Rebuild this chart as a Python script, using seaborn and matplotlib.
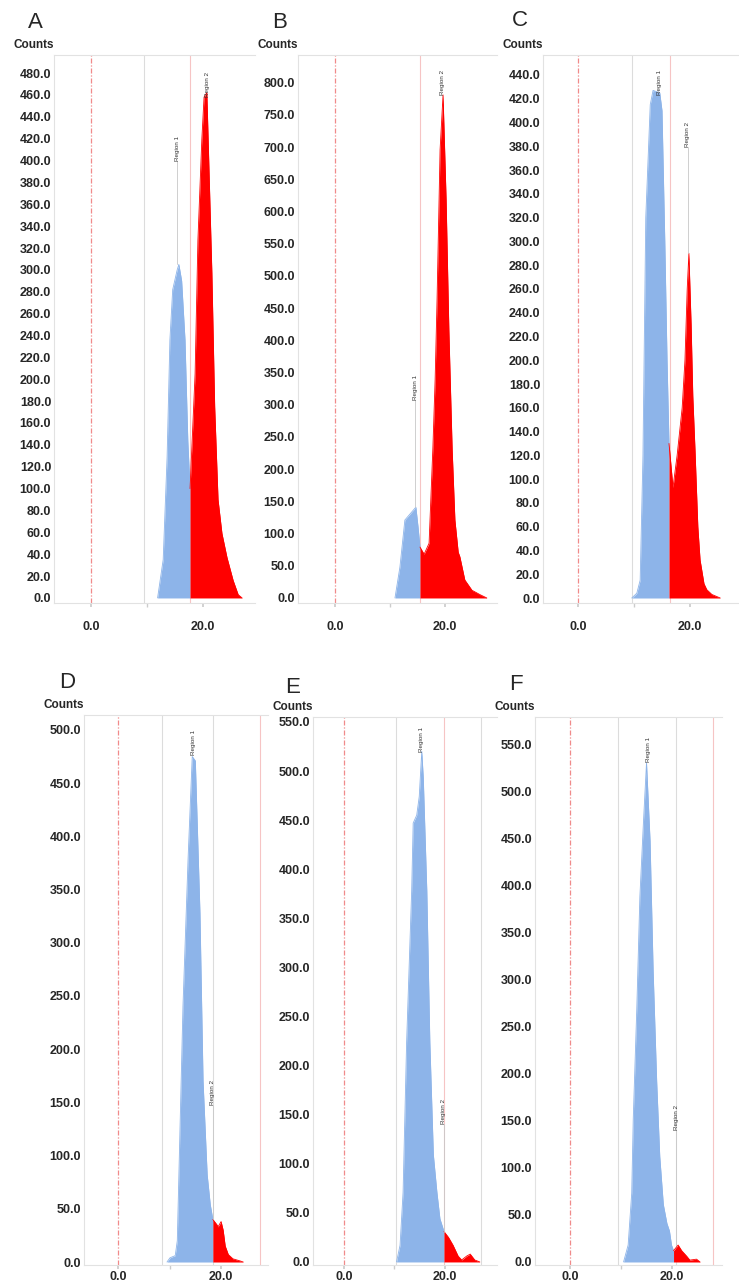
import matplotlib
matplotlib.use("Agg")
import matplotlib.pyplot as plt
import seaborn as sns
import pandas as pd

sns.set_theme(style="white")
plt.rcParams['font.family'] = ['Liberation Sans', 'DejaVu Sans']

BLUE = '#8db4e9'
RED = '#ff0000'

# ---------------- data (x = channel value, y = counts) ----------------
A_r1_x = [11.9, 12.9, 13.6, 14.1, 14.6, 15.4, 15.7, 16.2, 16.8, 17.3, 17.7]
A_r1_y = [0, 35, 129, 236, 282, 300, 305, 290, 236, 144, 100]
A_r2_x = [17.7, 18.6, 19.1, 19.8, 20.2, 20.7, 21.6, 22.1, 22.7, 23.4, 24.3, 25.4, 26.3, 27.0]
A_r2_y = [100, 205, 327, 419, 458, 462, 297, 175, 90, 59, 37, 16, 3, 0]

B_r1_x = [10.9, 11.8, 12.7, 14.0, 14.7, 15.1, 15.45]
B_r1_y = [0, 48, 121, 134, 141, 110, 79]
B_r2_x = [15.45, 16.2, 17.1, 17.8, 18.2, 18.55, 19.1, 19.64, 20.2, 20.7, 21.3, 21.8,
          22.4, 22.7, 23.6, 24.9, 26.4, 27.6]
B_r2_y = [79, 68, 85, 235, 339, 463, 696, 781, 618, 416, 230, 121, 71, 64, 28, 12, 5, 0]

C_r1_x = [9.6, 10.5, 11.1, 11.6, 12.1, 12.9, 13.4, 14.6, 15.0, 15.5, 15.9, 16.25]
C_r1_y = [0, 4, 15, 120, 320, 415, 427, 425, 410, 300, 200, 130]
C_r2_x = [16.25, 16.96, 17.7, 18.6, 19.1, 19.5, 19.8, 20.2, 20.5, 20.9, 21.4, 21.8,
          22.5, 23.0, 23.9, 25.4]
C_r2_y = [130, 93, 120, 160, 200, 260, 290, 230, 170, 124, 60, 32, 12, 7, 3, 0]

D_r1_x = [9.5, 10.1, 11.1, 11.5, 12.6, 13.6, 14.4, 15.0, 15.9, 16.5, 17.3, 17.9, 18.4]
D_r1_y = [0, 4, 6, 20, 240, 380, 475, 471, 328, 170, 82, 54, 40]
D_r2_x = [18.4, 19.2, 19.4, 20.0, 20.4, 20.8, 21.4, 22.3, 23.7, 24.3]
D_r2_y = [40, 35, 33, 38, 30, 15, 7, 3, 1, 0]

E_r1_x = [10.4, 11.1, 11.7, 12.4, 13.4, 13.7, 14.4, 14.9, 15.4, 15.7, 16.4, 17.0,
          17.7, 18.4, 19.0, 19.8]
E_r1_y = [0, 17, 71, 224, 378, 447, 455, 474, 520, 493, 378, 224, 109, 71, 44, 31]
E_r2_x = [19.8, 20.7, 21.6, 22.6, 23.3, 24.3, 25.0, 25.9, 26.9]
E_r2_y = [31, 25, 17, 6, 2, 6, 8, 2, 0]

F_r1_x = [10.5, 11.4, 12.1, 12.4, 13.1, 13.7, 14.4, 15.0, 15.7, 16.3, 17.0, 17.6,
          18.3, 19.0, 19.5, 19.9, 20.3]
F_r1_y = [0, 18, 73, 152, 270, 388, 467, 530, 447, 309, 191, 112, 61, 41, 33, 18, 12]
F_r2_x = [20.3, 20.6, 21.2, 21.9, 22.9, 23.5, 24.8, 25.5]
F_r2_y = [12, 14, 18, 12, 6, 2, 3, 0]

panel_letters = ['A', 'B', 'C', 'D', 'E', 'F']
x_tick_values = [0.0, 20.0]
y_tick_max = [480, 800, 440, 500, 550, 550]
y_tick_step = [20, 50, 20, 50, 50, 50]

# ---------------- layout ----------------
W, H = 739, 1283
panels = [
    dict(r1=(A_r1_x, A_r1_y), r2=(A_r2_x, A_r2_y), box=(54, 55, 255, 603),
         xlim=(-6.6, 29.3), ylim=(-4.6, 496.5), letter_xy=(35, 22), xpad=10,
         gray=[9.5], pink=[17.7],
         labels=[(15.4, 400, 305, 'Region 1'), (20.8, 458, 458, 'Region 2')]),
    dict(r1=(B_r1_x, B_r1_y), r2=(B_r2_x, B_r2_y), box=(298, 55, 497, 603),
         xlim=(-6.73, 29.45), ylim=(-7.8, 843), letter_xy=(280, 22), xpad=10,
         gray=[], pink=[15.45],
         labels=[(14.55, 307, 141, 'Region 1'), (19.5, 781, 781, 'Region 2')]),
    dict(r1=(C_r1_x, C_r1_y), r2=(C_r2_x, C_r2_y), box=(543, 55, 739, 603),
         xlim=(-6.25, 28.75), ylim=(-4.2, 456.8), letter_xy=(520, 20), xpad=10,
         gray=[9.6], pink=[16.4],
         labels=[(14.6, 423, 423, 'Region 1'), (19.6, 379, 290, 'Region 2')]),
    dict(r1=(D_r1_x, D_r1_y), r2=(D_r2_x, D_r2_y), box=(84, 715, 268, 1265),
         xlim=(-6.6, 29.1), ylim=(-2.8, 514), letter_xy=(67, 682), xpad=1.5,
         gray=[8.5, 18.4], pink=[27.6],
         labels=[(14.6, 476, 476, 'Region 1'), (18.4, 148, 40, 'Region 2')]),
    dict(r1=(E_r1_x, E_r1_y), r2=(E_r2_x, E_r2_y), box=(313, 717, 497, 1265),
         xlim=(-6.14, 30.3), ylim=(-3.1, 555), letter_xy=(293, 687), xpad=1.5,
         gray=[10.3, 27.1], pink=[19.8],
         labels=[(15.25, 519, 519, 'Region 1'), (19.8, 140, 31, 'Region 2')]),
    dict(r1=(F_r1_x, F_r1_y), r2=(F_r2_x, F_r2_y), box=(535, 717, 722, 1265),
         xlim=(-6.86, 29.8), ylim=(-3.2, 578.7), letter_xy=(516, 685), xpad=1.5,
         gray=[9.4, 20.8], pink=[28.0],
         labels=[(15.3, 531, 531, 'Region 1'), (20.8, 140, 18, 'Region 2')]),
]

fig = plt.figure(figsize=(W / 100, H / 100), dpi=100)
fig.patch.set_facecolor('white')

for i, p in enumerate(panels):
    l, t, r, b = p['box']
    ax = fig.add_axes([l / W, 1 - b / H, (r - l) / W, (b - t) / H])
    ax.set_facecolor('white')

    # vertical marker lines
    ax.axvline(0, color='#f08a8a', lw=0.9, ls=(0, (4, 1.5, 1, 1.5)), zorder=1)
    for g in p['gray']:
        ax.axvline(g, color='#dcdcdc', lw=0.8, zorder=1)
    for pk in p['pink']:
        ax.axvline(pk, color='#f6c4c4', lw=0.8, zorder=1)

    for (xs, ys), col in ((p['r1'], BLUE), (p['r2'], RED)):
        df = pd.DataFrame({'x': xs, 'count': ys})
        ax.fill_between(df['x'], df['count'], 0, color=col, lw=0, zorder=2)
        sns.lineplot(data=df, x='x', y='count', ax=ax, color=col, lw=0.6,
                     sort=False, estimator=None, zorder=3)

    for (lx, ly, lpk, txt) in p['labels']:
        if ly > lpk:
            ax.plot([lx, lx], [lpk, ly], color='#c8c8c8', lw=0.6, zorder=4)
        ax.text(lx, ly, txt, rotation=90, ha='center', va='bottom',
                fontsize=4.5, color='#333333', zorder=5)

    ax.set_xlim(*p['xlim'])
    ax.set_ylim(*p['ylim'])
    yt = list(range(0, y_tick_max[i] + 1, y_tick_step[i]))
    ax.set_yticks(yt)
    ax.set_yticklabels([f'{v:.1f}' for v in yt], fontsize=9, fontweight='bold')
    ax.set_xticks(x_tick_values)
    ax.set_xticklabels([f'{v:.1f}' for v in x_tick_values], fontsize=9,
                       fontweight='bold')
    ax.set_xticks([10.0], minor=True)
    ax.tick_params(axis='y', length=0, pad=2)
    ax.tick_params(axis='x', which='both', length=3, color='#cccccc',
                   direction='out', pad=p['xpad'], bottom=True)
    ax.set_xlabel('')
    ax.set_ylabel('')
    for side in ['top', 'left', 'right', 'bottom']:
        ax.spines[side].set_color('#e2e2e2')
        ax.spines[side].set_linewidth(0.8)
    ax.spines['right'].set_visible(False)
    ax.grid(False)

    ax.annotate('Counts', xy=(0, 1), xycoords='axes fraction', xytext=(0, 3),
                textcoords='offset points', ha='right', va='bottom',
                fontsize=8.5, fontweight='bold')
    lx, ly = p['letter_xy']
    fig.text(lx / W, 1 - ly / H, panel_letters[i], fontsize=16,
             ha='center', va='center')

fig.savefig('out.png', dpi=100, facecolor='white')
